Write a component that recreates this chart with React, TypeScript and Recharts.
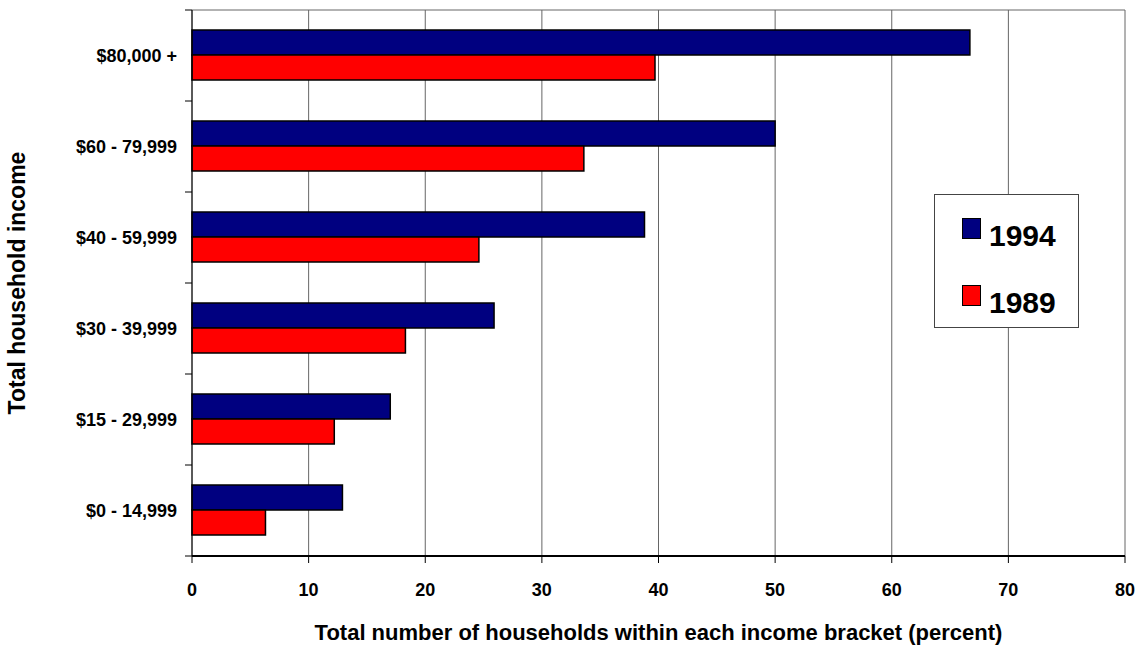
import { Bar, BarChart, CartesianGrid, Legend, XAxis, YAxis } from "recharts";

const CATEGORIES = [
  "$80,000 +",
  "$60 - 79,999",
  "$40 - 59,999",
  "$30 - 39,999",
  "$15 - 29,999",
  "$0 - 14,999",
];
const SHARE_1994 = [66.7, 50.0, 38.8, 25.9, 17.0, 12.9];
const SHARE_1989 = [39.7, 33.6, 24.6, 18.3, 12.2, 6.3];
const X_TICKS = [0, 10, 20, 30, 40, 50, 60, 70, 80];
const LEGEND_ORDER = ["1994", "1989"];

const data = CATEGORIES.map((income, i) => ({
  income,
  y1994: SHARE_1994[i],
  y1989: SHARE_1989[i],
}));

const FONT = "'Liberation Sans', Arial, Helvetica, sans-serif";
const WIDTH = 1140;
const HEIGHT = 648;
const MARGIN = { top: 10, right: 15, bottom: 0, left: 0 };
const X_AXIS_HEIGHT = 92;
const Y_AXIS_WIDTH = 192;
const TICK_SIZE = 7;
const TICK_MARGIN = 8;
// height of one category band, used to put the y tick marks on band edges
const BAND =
  (HEIGHT - MARGIN.top - MARGIN.bottom - X_AXIS_HEIGHT) / CATEGORIES.length;

function IncomeTick(props: any) {
  const { x, y, payload, index } = props;
  const lineX1 = x + TICK_MARGIN;
  const lineX2 = lineX1 + TICK_SIZE;
  return (
    <g>
      <line x1={lineX1} x2={lineX2} y1={y - BAND / 2} y2={y - BAND / 2} stroke="#000" />
      {index === CATEGORIES.length - 1 && (
        <line x1={lineX1} x2={lineX2} y1={y + BAND / 2} y2={y + BAND / 2} stroke="#000" />
      )}
      <text
        x={x}
        y={y}
        dy="0.355em"
        textAnchor="end"
        fill="#000"
        fontSize={18}
        fontWeight={700}
        fontFamily={FONT}
      >
        {payload.value}
      </text>
    </g>
  );
}

function YearLegend(props: any) {
  // recharts lists vertical-layout series bottom-up; keep the reference order
  const payload = [...(props.payload ?? [])].sort(
    (a: any, b: any) => LEGEND_ORDER.indexOf(a.value) - LEGEND_ORDER.indexOf(b.value)
  );
  return (
    <div
      style={{
        position: "relative",
        width: 145,
        height: 134,
        boxSizing: "border-box",
        border: "1px solid #444",
        background: "#fff",
        fontFamily: FONT,
      }}
    >
      {payload.map((entry: any, i: number) => (
        <div key={entry.value}>
          <div
            style={{
              position: "absolute",
              left: 27,
              top: 23 + i * 67,
              width: 19,
              height: 21,
              boxSizing: "border-box",
              border: "1px solid #000",
              background: entry.color,
            }}
          />
          <div
            style={{
              position: "absolute",
              left: 54,
              top: 25.6 + i * 67,
              fontSize: 30,
              lineHeight: "30px",
              fontWeight: 700,
              color: "#000",
            }}
          >
            {entry.value}
          </div>
        </div>
      ))}
    </div>
  );
}

export default function App() {
  return (
    <div style={{ position: "fixed", left: 0, top: 0, width: WIDTH, height: HEIGHT, background: "#fff" }}>
      <BarChart
        width={WIDTH}
        height={HEIGHT}
        data={data}
        layout="vertical"
        margin={MARGIN}
        barCategoryGap="22%"
        barGap={0}
      >
        <CartesianGrid
          vertical
          horizontal
          horizontalPoints={[MARGIN.top]}
          stroke="#666"
          strokeWidth={1}
        />
        <XAxis
          type="number"
          domain={[0, 80]}
          ticks={X_TICKS}
          interval={0}
          height={X_AXIS_HEIGHT}
          tickSize={TICK_SIZE}
          tickMargin={20}
          axisLine={{ stroke: "#000", strokeWidth: 2 }}
          tickLine={{ stroke: "#000" }}
          tick={{ fill: "#000", fontSize: 18, fontWeight: 700, fontFamily: FONT }}
          label={{
            value: "Total number of households within each income bracket (percent)",
            position: "insideBottom",
            offset: 8,
            fill: "#000",
            fontSize: 22,
            fontWeight: 700,
            fontFamily: FONT,
          }}
        />
        <YAxis
          type="category"
          dataKey="income"
          width={Y_AXIS_WIDTH}
          interval={0}
          tickSize={TICK_SIZE}
          tickMargin={TICK_MARGIN}
          tickLine={false}
          axisLine={{ stroke: "#000", strokeWidth: 1 }}
          tick={<IncomeTick />}
          label={{
            value: "Total household income",
            angle: -90,
            position: "insideLeft",
            offset: 17,
            fill: "#000",
            fontSize: 23,
            fontWeight: 700,
            fontFamily: FONT,
            style: { textAnchor: "middle" },
          }}
        />
        <Legend
          layout="vertical"
          align="center"
          verticalAlign="middle"
          content={<YearLegend />}
          wrapperStyle={{ left: 934, top: 194, width: 145, height: 134 }}
        />
        <Bar
          dataKey="y1994"
          name="1994"
          fill="#000080"
          stroke="#000"
          strokeWidth={1.5}
          isAnimationActive={false}
        />
        <Bar
          dataKey="y1989"
          name="1989"
          fill="#ff0000"
          stroke="#000"
          strokeWidth={1.5}
          isAnimationActive={false}
        />
      </BarChart>
    </div>
  );
}
